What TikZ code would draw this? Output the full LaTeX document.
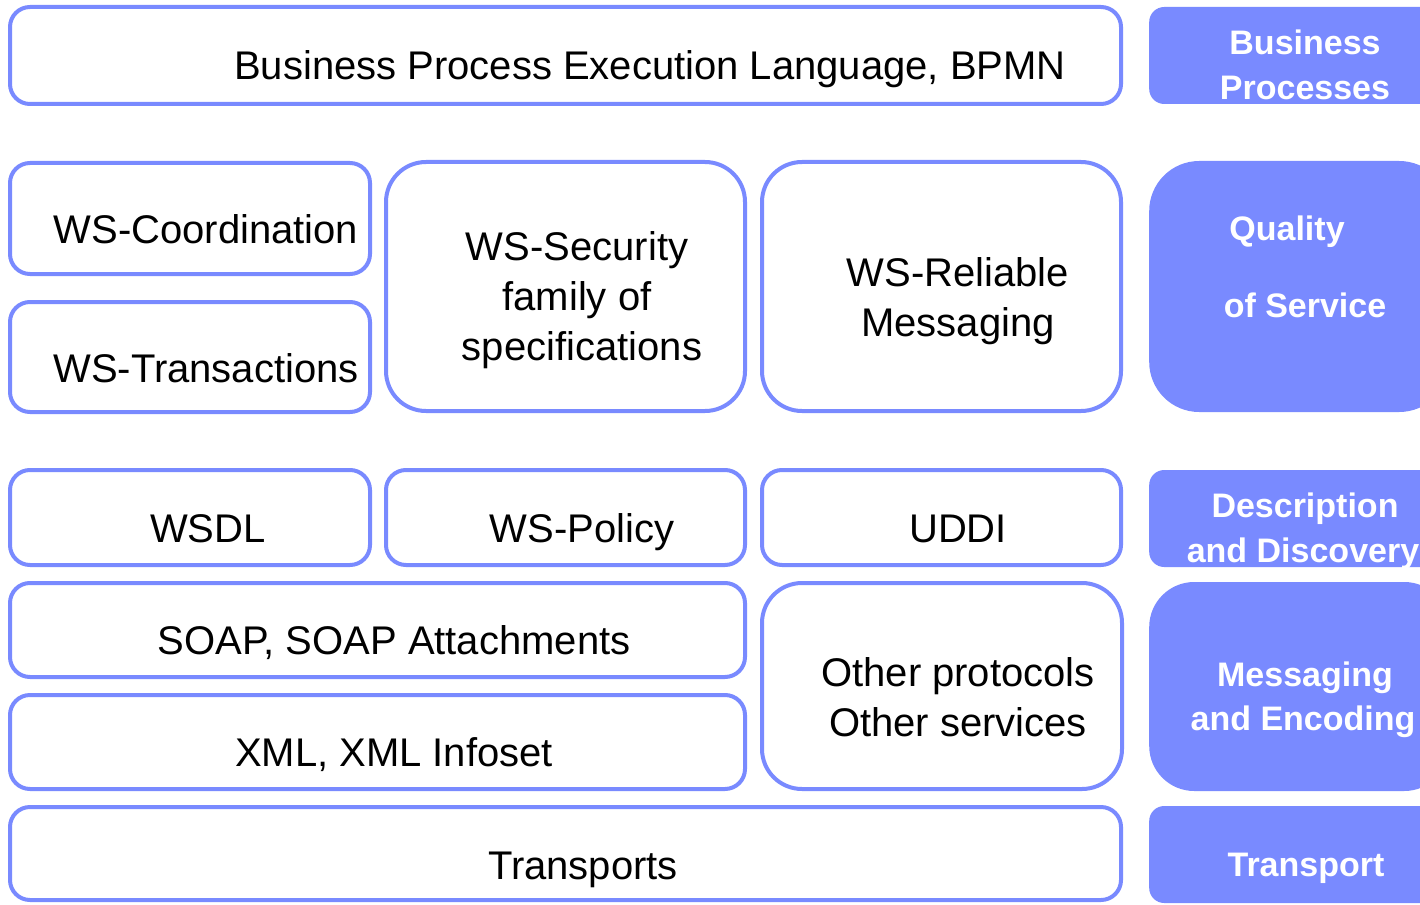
\documentclass[tikz,border=0pt]{standalone}
\usepackage{fontspec}
\setmainfont{Liberation Sans}
\definecolor{lblue}{RGB}{121,138,255}
\begin{document}
\begin{tikzpicture}[x=1pt,y=-1pt,
  box/.style={draw=lblue,line width=4pt,fill=white,rounded corners=#1,inner sep=0pt},
  box/.default=20pt,
  tag/.style={fill=lblue,rounded corners=#1,inner sep=0pt,anchor=west},
  tag/.default=15pt,
  txt/.style={anchor=base,inner sep=0pt,font=\fontsize{40}{50}\selectfont},
  btxt/.style={anchor=base,inner sep=0pt,text=white,font=\fontsize{34}{45}\selectfont\bfseries}]
\path[use as bounding box,clip] (0,0) rectangle (1420,904);
% left boxes
\node[box,minimum width=1111pt,minimum height=97pt] (bpel) at (565.5,55.5) {};
\node[box,minimum width=360pt,minimum height=111pt] (coord) at (190,218.5) {};
\node[box,minimum width=360pt,minimum height=110pt] (trans) at (190,357) {};
\node[box=40pt,minimum width=359pt,minimum height=249pt] (sec) at (565.5,286.5) {};
\node[box=40pt,minimum width=359pt,minimum height=249pt] (rel) at (941.5,286.5) {};
\node[box,minimum width=360pt,minimum height=95pt] (wsdl) at (190,517.5) {};
\node[box,minimum width=359pt,minimum height=95pt] (pol) at (565.5,517.5) {};
\node[box,minimum width=359pt,minimum height=95pt] (uddi) at (941.5,517.5) {};
\node[box,minimum width=735pt,minimum height=94pt] (soap) at (377.5,630) {};
\node[box,minimum width=735pt,minimum height=94pt] (xml) at (377.5,742) {};
\node[box=40pt,minimum width=360pt,minimum height=206pt] (other) at (942,686) {};
\node[box,minimum width=1111pt,minimum height=93pt] (transp) at (565.5,853.5) {};
% right tags
\node[tag,minimum width=300pt,minimum height=97pt] (bp) at (1149,55.5) {};
\node[tag=50pt,minimum width=300pt,minimum height=251pt] (qos) at (1149,286.5) {};
\node[tag,minimum width=300pt,minimum height=97pt] (dd) at (1149,518.5) {};
\node[tag=45pt,minimum width=300pt,minimum height=209pt] (me) at (1149,686.5) {};
\node[tag,minimum width=300pt,minimum height=97pt] (tr) at (1149,854.5) {};
% texts
\node[txt] (t-bpel) at (650,80) {Business Process Execution Language, BPMN};
\node[txt] (t-coord) at (206,243) {WS-Coordination};
\node[txt] (t-trans) at (206,382) {WS-Transactions};
\node[txt] (t-sec1) at (577,260) {WS-Security};
\node[txt] (t-sec2) at (577,310) {family of};
\node[txt] (t-sec3) at (582,360) {specifications};
\node[txt] (t-rel1) at (958,286) {WS-Reliable};
\node[txt] (t-rel2) at (958,336) {Messaging};
\node[txt] (t-wsdl) at (208,542) {WSDL};
\node[txt] (t-pol) at (582,542) {WS-Policy};
\node[txt] (t-uddi) at (958,542) {UDDI};
\node[txt] (t-soap) at (394,654) {SOAP, SOAP Attachments};
\node[txt] (t-xml) at (394,766) {XML, XML Infoset};
\node[txt] (t-oth1) at (958,686) {Other protocols};
\node[txt] (t-oth2) at (958,736) {Other services};
\node[txt] (t-transp) at (583,879) {Transports};
\node[btxt] (b-bp1) at (1305,55) {Business};
\node[btxt] (b-bp2) at (1305,100) {Processes};
\node[btxt] (b-q1) at (1287,240) {Quality};
\node[btxt] (b-q2) at (1305,317) {of Service};
\node[btxt] (b-d1) at (1305,517) {Description};
\node[btxt] (b-d2) at (1303,562) {and Discovery};
\node[btxt] (b-m1) at (1305,686) {Messaging};
\node[btxt] (b-m2) at (1303,730) {and Encoding};
\node[btxt] (b-t) at (1306,876) {Transport};
\end{tikzpicture}
\end{document}
